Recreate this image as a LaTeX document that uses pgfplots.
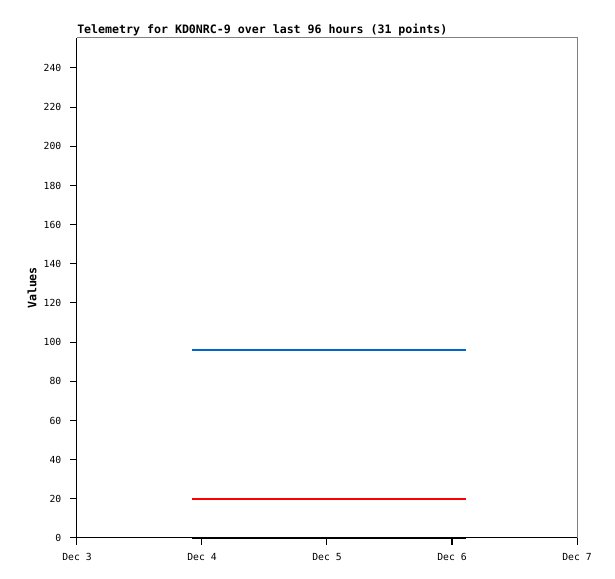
\documentclass[border=0pt]{standalone}
\usepackage{pgfplots}
\pgfplotsset{compat=1.18}
\usepackage{fontspec}
\setmainfont{DejaVu Sans Mono}
\definecolor{tblue}{HTML}{0066CC}
\definecolor{tred}{HTML}{FF0000}
\definecolor{frame}{HTML}{808080}

% values; x in days of December
\pgfplotstableread{
x     y
3.92  96
6.11  96
}\seriesA
\pgfplotstableread{
x     y
3.92  20
6.11  20
}\seriesB
\pgfplotstableread{
x     y
3.92  0
6.11  0
}\seriesC

\begin{document}
\begin{tikzpicture}[x=0.75pt,y=0.75pt]
\begin{axis}[
    scale only axis,
    width=375pt, height=375pt,
    xmin=3, xmax=7, ymin=0, ymax=255.3,
    axis lines*=left,
    axis line style={black, line width=0.75pt, -},
    tick align=outside,
    major tick length=5.25pt,
    tick style={black, line width=0.75pt},
    xtick={3,4,5,6,7},
    xticklabels={Dec 3,Dec 4,Dec 5,Dec 6,Dec 7},
    ytick={0,20,...,240},
    /pgf/number format/assume math mode=true,
    tick label style={font=\fontsize{7.3}{8}\selectfont},
    xticklabel style={yshift=-2.5pt},
    yticklabel style={xshift=-3pt},
    ylabel={\bfseries Values},
    ylabel style={font=\fontsize{8.7}{10}\selectfont, at={(axis description cs:-0.09,0.5)}, anchor=center, rotate=0},
    title={\bfseries Telemetry for KD0NRC-9 over last 96 hours (31 points)},
    title style={font=\fontsize{8.7}{10}\selectfont, at={(rel axis cs:0,1)}, anchor=south west, inner sep=0pt, yshift=-5pt},
    clip=false,
]
\addplot[tblue, line width=1.5pt] table[x=x, y=y] {\seriesA};
\addplot[tred, line width=1.5pt] table[x=x, y=y] {\seriesB};
\addplot[black, line width=1.5pt] table[x=x, y=y] {\seriesC};
\draw[frame, line width=0.75pt] (rel axis cs:0,1) -- (rel axis cs:1,1) -- (rel axis cs:1,0);
\coordinate (sw) at (rel axis cs:0,0);
\coordinate (ne) at (rel axis cs:1,1);
\end{axis}
\pgfresetboundingbox
\path[use as bounding box] ([shift={(-57.75pt,-30.75pt)}]sw) rectangle ([shift={(28.5pt,28.5pt)}]ne);
\end{tikzpicture}
\end{document}
